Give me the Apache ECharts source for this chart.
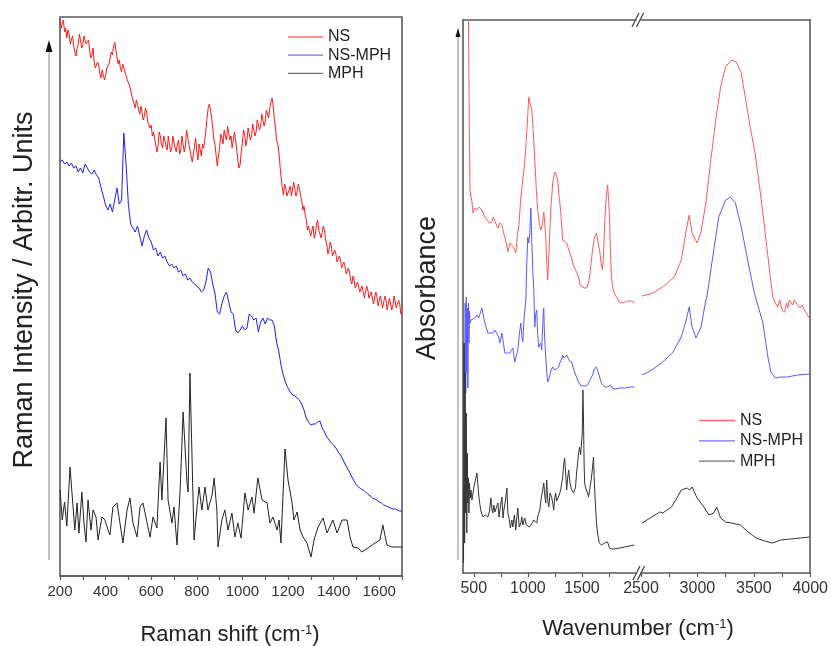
<!DOCTYPE html>
<html><head><meta charset="utf-8">
<script src="https://cdn.jsdelivr.net/npm/echarts@6/dist/echarts.min.js"></script>
<style>html,body{margin:0;padding:0;background:#fff}#c{width:831px;height:646px}</style>
</head><body><div id="c"></div>
<script>
// ---------- Raman (left panel): [Raman shift cm-1, intensity a.u.] ----------
const ramanNS = [[200,558],[205,548],[210,550],[215,556],[220,544],[225,548],[230,538],[235,546],[240,542],[245,532],[250,534],[255,540],[260,530],[265,524],[270,520],[275,528],[280,532],[285,542],[290,536],[295,528],[300,531],[305,540],[310,538],[315,532],[320,530],[325,536],[330,526],[335,518],[340,521],[345,528],[350,514],[355,508],[360,506],[365,514],[370,510],[375,502],[380,498],[385,506],[390,504],[395,496],[400,500],[405,508],[410,506],[415,512],[420,514],[425,524],[430,521],[435,530],[440,534],[445,526],[450,524],[455,512],[460,516],[465,508],[470,504],[475,512],[480,514],[485,504],[490,506],[495,496],[500,498],[505,490],[510,486],[515,480],[520,478],[525,472],[530,468],[535,476],[540,472],[545,466],[550,462],[555,470],[560,468],[565,456],[570,460],[575,468],[580,464],[585,454],[590,456],[595,448],[600,451],[605,440],[610,444],[615,438],[620,436],[625,424],[630,430],[635,444],[640,440],[645,432],[650,428],[655,440],[660,436],[665,430],[670,426],[675,440],[680,438],[685,424],[690,428],[695,440],[700,434],[705,428],[710,424],[715,432],[720,436],[725,422],[730,426],[735,440],[740,438],[745,424],[750,430],[755,446],[760,444],[765,432],[770,426],[775,420],[780,414],[785,422],[790,430],[795,438],[800,424],[805,416],[810,432],[815,426],[820,420],[825,432],[830,428],[835,436],[840,446],[845,458],[850,468],[855,472],[860,466],[865,458],[870,448],[875,436],[880,431],[885,420],[890,410],[895,420],[900,428],[905,442],[910,438],[915,432],[920,446],[925,440],[930,436],[935,450],[940,448],[945,436],[950,440],[955,428],[960,430],[965,444],[970,436],[975,426],[980,416],[985,408],[990,411],[995,424],[1000,434],[1005,446],[1010,442],[1015,430],[1020,436],[1025,448],[1030,446],[1035,436],[1040,440],[1045,452],[1050,450],[1055,440],[1060,444],[1065,456],[1070,454],[1075,446],[1080,450],[1085,462],[1090,460],[1095,450],[1100,454],[1105,466],[1110,464],[1115,458],[1120,468],[1125,474],[1130,478],[1135,470],[1140,458],[1145,448],[1150,436],[1155,432],[1160,424],[1165,410],[1170,398],[1175,388],[1180,381],[1185,392],[1190,388],[1195,380],[1200,378],[1205,386],[1210,390],[1215,380],[1220,382],[1225,394],[1230,392],[1235,380],[1240,384],[1245,392],[1250,388],[1255,380],[1260,376],[1265,366],[1270,370],[1275,362],[1280,356],[1285,346],[1290,350],[1295,344],[1300,340],[1305,346],[1310,350],[1315,338],[1320,342],[1325,352],[1330,356],[1335,346],[1340,348],[1345,338],[1350,340],[1355,350],[1360,346],[1365,336],[1370,332],[1375,322],[1380,326],[1385,334],[1390,330],[1395,320],[1400,318],[1405,326],[1410,322],[1415,314],[1420,312],[1425,320],[1430,316],[1435,308],[1440,306],[1445,314],[1450,310],[1455,302],[1460,300],[1465,308],[1470,304],[1475,296],[1480,292],[1485,300],[1490,296],[1495,288],[1500,286],[1505,294],[1510,292],[1515,284],[1520,282],[1525,290],[1530,288],[1535,278],[1540,280],[1545,290],[1550,286],[1555,278],[1560,276],[1565,284],[1570,282],[1575,272],[1580,274],[1585,284],[1590,280],[1595,270],[1600,272],[1605,280],[1610,278],[1615,268],[1620,270],[1625,280],[1630,276],[1635,266],[1640,268],[1645,278],[1650,276],[1655,266],[1660,270],[1665,280],[1670,278],[1675,268],[1680,266],[1685,276],[1690,272],[1695,262],[1700,264]];
const ramanNSMPH = [[200,414],[210,416],[220,412],[230,414],[240,410],[250,413],[260,408],[270,410],[280,404],[290,408],[300,403],[310,412],[320,408],[330,404],[340,402],[350,406],[360,401],[370,398],[380,388],[390,380],[400,371],[410,366],[420,372],[430,364],[440,376],[450,388],[460,372],[470,376],[480,443],[490,411],[500,371],[510,352],[520,348],[530,344],[540,350],[550,340],[560,330],[570,340],[580,346],[590,338],[600,334],[610,326],[620,328],[630,320],[640,324],[650,318],[660,320],[670,314],[680,310],[690,312],[700,308],[710,310],[720,304],[730,306],[740,300],[750,302],[760,296],[770,298],[780,294],[790,292],[800,290],[810,288],[820,284],[830,286],[840,294],[850,308],[860,304],[870,292],[880,282],[890,264],[900,262],[910,272],[920,280],[930,284],[940,274],[950,264],[960,262],[970,246],[980,243],[990,246],[1000,250],[1010,246],[1020,248],[1030,262],[1040,260],[1050,256],[1060,258],[1070,244],[1080,254],[1090,258],[1100,252],[1110,258],[1120,256],[1130,256],[1140,250],[1150,234],[1160,224],[1170,210],[1180,200],[1190,193],[1200,188],[1210,184],[1220,181],[1230,180],[1240,178],[1250,176],[1260,172],[1270,166],[1280,158],[1290,154],[1300,151],[1310,152],[1320,152],[1330,154],[1340,155],[1350,148],[1360,144],[1370,139],[1380,136],[1390,133],[1400,131],[1410,128],[1420,124],[1430,121],[1440,117],[1450,112],[1460,108],[1470,104],[1480,99],[1490,95],[1500,91],[1510,89],[1520,87],[1530,86],[1540,84],[1550,82],[1560,80],[1570,78],[1580,77],[1590,76],[1600,74],[1610,73],[1620,71],[1630,70],[1640,69],[1650,68],[1660,67],[1670,67],[1680,66],[1690,65],[1700,65]];
const ramanMPH = [[200,86],[210,56],[220,74],[230,50],[244,109],[255,76],[265,46],[275,73],[283,43],[296,84],[305,53],[314,34],[323,76],[336,46],[345,66],[358,59],[367,36],[384,59],[397,56],[411,46],[419,41],[432,69],[450,73],[463,53],[476,33],[494,66],[507,78],[520,53],[538,39],[551,69],[564,73],[582,53],[595,39],[608,59],[625,48],[639,114],[647,76],[665,158],[674,76],[691,53],[700,69],[713,31],[727,86],[740,164],[757,93],[762,84],[770,203],[788,36],[801,69],[810,89],[822,66],[836,89],[849,66],[867,81],[876,98],[888,66],[893,29],[910,56],[923,66],[937,46],[954,63],[967,39],[980,53],[994,38],[1011,83],[1025,66],[1042,79],[1051,63],[1068,98],[1086,76],[1108,73],[1121,53],[1134,59],[1152,46],[1161,56],[1169,33],[1187,127],[1200,96],[1218,73],[1226,56],[1240,64],[1253,46],[1266,39],[1283,33],[1301,19],[1314,36],[1332,49],[1354,58],[1371,43],[1397,56],[1415,43],[1437,56],[1459,56],[1472,39],[1485,29],[1507,28],[1524,24],[1551,28],[1582,33],[1603,36],[1616,51],[1634,31],[1656,29],[1700,29]];

// ---------- FTIR (right panel): [wavenumber cm-1, absorbance a.u.] ----------
const ftirNS_low = [[425,640],[440,600],[450,560],[458,450],[465,383],[470,378],[483,371],[492,360],[510,365],[529,363],[550,366],[575,363],[600,356],[621,353],[645,350],[667,351],[680,356],[695,355],[710,348],[723,345],[740,350],[760,348],[775,340],[787,336],[800,330],[815,321],[835,330],[852,330],[870,325],[888,320],[905,340],[916,346],[935,376],[953,378],[970,410],[990,440],[1008,476],[1020,470],[1036,463],[1050,440],[1064,413],[1080,380],[1091,363],[1105,350],[1119,343],[1133,348],[1147,361],[1156,350],[1165,336],[1175,310],[1183,293],[1195,320],[1211,363],[1230,390],[1248,401],[1262,398],[1276,393],[1290,375],[1303,363],[1322,333],[1340,332],[1359,330],[1380,323],[1405,315],[1420,308],[1441,303],[1455,300],[1469,296],[1483,288],[1497,286],[1520,285],[1543,285],[1560,290],[1570,296],[1585,310],[1598,323],[1615,335],[1635,340],[1650,330],[1663,323],[1677,310],[1690,303],[1700,320],[1709,346],[1720,370],[1737,388],[1746,375],[1755,356],[1764,320],[1773,296],[1790,282],[1819,276],[1847,271],[1880,270],[1920,272],[1960,272],[1985,270]];
const ftirNS_high = [[2509,277],[2605,280],[2692,286],[2796,296],[2857,313],[2901,343],[2927,358],[2953,340],[2997,330],[3032,341],[3075,370],[3119,413],[3163,453],[3206,486],[3250,506],[3302,513],[3346,511],[3389,500],[3433,470],[3468,446],[3511,420],[3555,383],[3598,343],[3642,300],[3668,276],[3690,270],[3712,266],[3730,273],[3750,263],[3773,261],[3790,270],[3800,265],[3815,273],[3826,271],[3845,268],[3860,273],[3887,268],[3910,265],[3930,268],[3948,263],[3970,259],[3991,255],[4000,255]];
const ftirNSMPH_low = [[415,190],[420,270],[425,180],[430,276],[435,200],[440,265],[445,185],[450,270],[455,230],[460,262],[465,250],[474,253],[492,253],[510,255],[529,258],[545,255],[557,253],[575,265],[590,256],[603,250],[630,240],[655,240],[676,240],[695,243],[713,243],[730,236],[741,230],[760,240],[787,220],[810,220],[833,220],[850,222],[861,225],[879,211],[895,218],[907,223],[920,238],[935,250],[945,236],[953,231],[965,255],[981,273],[990,310],[999,336],[1008,330],[1018,340],[1027,365],[1032,350],[1036,333],[1046,300],[1055,283],[1064,246],[1072,258],[1082,263],[1090,240],[1100,226],[1119,230],[1128,223],[1137,245],[1143,262],[1147,265],[1153,240],[1165,216],[1175,200],[1183,191],[1195,194],[1202,196],[1215,203],[1230,206],[1250,203],[1267,201],[1285,206],[1294,210],[1310,213],[1322,218],[1335,215],[1349,213],[1360,218],[1368,216],[1385,212],[1405,211],[1420,205],[1432,201],[1450,196],[1469,191],[1490,187],[1506,186],[1530,187],[1552,188],[1575,193],[1598,198],[1615,204],[1635,206],[1650,201],[1663,196],[1677,191],[1690,188],[1715,186],[1737,186],[1750,188],[1764,188],[1780,185],[1801,184],[1850,185],[1893,185],[1940,186],[1985,186]];
const ftirNSMPH_high = [[2509,198],[2596,203],[2692,211],[2779,220],[2857,236],[2901,253],[2927,266],[2953,246],[2988,235],[3032,246],[3075,273],[3084,276],[3145,323],[3189,356],[3250,373],[3293,376],[3337,370],[3389,346],[3433,320],[3505,280],[3581,250],[3625,216],[3651,201],[3694,195],[3738,196],[3799,196],[3886,198],[3991,199]];
const ftirMPH_low = [[405,10],[410,230],[415,30],[420,200],[425,60],[430,160],[435,40],[440,120],[445,70],[450,95],[455,60],[460,90],[466,75],[474,83],[483,73],[501,86],[529,100],[547,76],[565,62],[584,56],[605,58],[630,56],[645,62],[658,75],[667,64],[676,60],[685,68],[695,61],[710,60],[723,70],[733,56],[741,56],[750,70],[760,76],[770,55],[778,63],[792,72],[806,85],[815,60],[824,56],[838,45],[852,53],[861,46],[875,58],[888,43],[897,55],[907,65],[920,46],[935,50],[944,56],[953,48],[971,55],[985,48],[999,50],[1015,46],[1027,45],[1040,50],[1054,53],[1070,52],[1082,50],[1095,58],[1110,63],[1125,76],[1137,83],[1147,90],[1156,78],[1165,70],[1174,93],[1184,72],[1193,66],[1205,80],[1220,76],[1230,70],[1239,63],[1248,75],[1257,80],[1266,72],[1276,70],[1290,78],[1303,83],[1313,90],[1322,96],[1331,108],[1340,115],[1350,98],[1359,83],[1368,95],[1377,103],[1390,90],[1405,83],[1414,85],[1423,80],[1432,83],[1441,86],[1450,100],[1460,110],[1469,120],[1478,126],[1488,118],[1497,116],[1503,140],[1509,183],[1515,150],[1520,110],[1525,90],[1534,85],[1543,83],[1552,80],[1561,76],[1575,86],[1589,96],[1600,108],[1607,116],[1615,90],[1626,66],[1635,50],[1644,40],[1660,30],[1681,28],[1695,30],[1709,30],[1723,28],[1737,31],[1746,30],[1755,25],[1775,24],[1801,24],[1850,25],[1893,26],[1940,27],[1985,28]];
const ftirMPH_high = [[2509,50],[2596,56],[2666,61],[2692,60],[2770,66],[2823,76],[2857,83],[2910,85],[2930,83],[2953,86],[2997,75],[3058,66],[3102,58],[3145,60],[3171,66],[3206,55],[3250,51],[3302,50],[3381,48],[3450,41],[3520,35],[3598,32],[3668,30],[3738,33],[3826,34],[3913,35],[3991,36]];

// ---------- axis ticks / labels ----------
const ramanTicks = [200,300,400,500,600,700,800,900,1000,1100,1200,1300,1400,1500,1600,1700];
const ramanLabels = [200,400,600,800,1000,1200,1400,1600];
const ftirLowTicks = [500,750,1000,1250,1500,1750];
const ftirLowLabels = [500,1000,1500];
const ftirHighTicks = [2500,2750,3000,3250,3500,3750,4000];
const ftirHighLabels = [2500,3000,3500,4000];
const seriesNames = ['NS','NS-MPH','MPH'];

const FONT = '"Liberation Sans", Arial, Helvetica, sans-serif';
const FRAME = '#5a5a5a';
const leftColors = ['#ff1a1a','#1f1fff','#222222'];
const rightColors = ['#ff5a5a','#5a5aff','#333333'];

const chart = echarts.init(document.getElementById('c'), null, {renderer:'canvas'});

function lineAxis(grid, min, max, pos, ticks, labels, fs) {
  return {
    type:'value', gridIndex:grid, min:min, max:max, position:pos,
    axisLine:{show:true, onZero:false, lineStyle:{color:FRAME, width:1.6}},
    axisTick:{show:!!ticks, inside:false, length:4, customValues:ticks||undefined, lineStyle:{color:FRAME, width:1.2}},
    axisLabel:{show:!!labels, customValues:labels||undefined, fontSize:fs||15, color:'#333', fontFamily:FONT, margin:8,
               formatter:function(v){return String(v);}},
    splitLine:{show:false}
  };
}

function mk(name, data, xi, yi, color) {
  return {name:name, type:'line', data:data, xAxisIndex:xi, yAxisIndex:yi, symbol:'none', showSymbol:false,
    lineStyle:{color:color, width:1}, itemStyle:{color:color}, clip:true, silent:true, animation:false};
}

const supRich = {sup:{fontSize:13, fontFamily:FONT, fill:'#222', verticalAlign:'top', padding:[0,0,4,0]}};
const legendCommon = {data:seriesNames, orient:'vertical', padding:0, icon:'rect', itemHeight:1.3,
  itemStyle:{opacity:0.65}, textStyle:{fontSize:16, fontFamily:FONT, color:'#222', lineHeight:16}, selectedMode:false};

chart.setOption({
  animation:false,
  backgroundColor:'#fff',
  grid:[
    {left:60, right:429, top:17, bottom:70, show:true, borderColor:FRAME, borderWidth:1.6},
    {left:463, right:195, top:20, bottom:73},
    {left:641, right:18, top:20, bottom:73}
  ],
  xAxis:[
    lineAxis(0, 200, 1700, 'bottom', ramanTicks, ramanLabels, 15),
    lineAxis(1, 400, 2000, 'bottom', ftirLowTicks, ftirLowLabels, 16),
    lineAxis(2, 2500, 4000, 'bottom', ftirHighTicks, ftirHighLabels, 16),
    lineAxis(1, 400, 2000, 'top', null, null),
    lineAxis(2, 2500, 4000, 'top', null, null)
  ],
  yAxis:[
    {type:'value', gridIndex:0, min:0, max:559, show:false},
    {type:'value', gridIndex:1, min:0, max:553, position:'left', axisLine:{show:true, lineStyle:{color:FRAME, width:1.6}}, axisTick:{show:false}, axisLabel:{show:false}, splitLine:{show:false}},
    {type:'value', gridIndex:2, min:0, max:553, position:'right', axisLine:{show:true, lineStyle:{color:FRAME, width:1.6}}, axisTick:{show:false}, axisLabel:{show:false}, splitLine:{show:false}}
  ],
  legend:[
    Object.assign({}, legendCommon, {left:288, top:29, itemWidth:35, itemGap:2.2}),
    Object.assign({}, legendCommon, {left:699, top:412.5, itemWidth:36, itemGap:4.3})
  ],
  series:[
    mk('NS', ramanNS, 0, 0, leftColors[0]),
    mk('NS-MPH', ramanNSMPH, 0, 0, leftColors[1]),
    mk('MPH', ramanMPH, 0, 0, leftColors[2]),
    mk('NS', ftirNS_low, 1, 1, rightColors[0]),
    mk('NS-MPH', ftirNSMPH_low, 1, 1, rightColors[1]),
    mk('MPH', ftirMPH_low, 1, 1, rightColors[2]),
    mk('NS', ftirNS_high, 2, 2, rightColors[0]),
    mk('NS-MPH', ftirNSMPH_high, 2, 2, rightColors[1]),
    mk('MPH', ftirMPH_high, 2, 2, rightColors[2])
  ],
  graphic:[
    {type:'line', shape:{x1:49, y1:560, x2:49, y2:48}, style:{stroke:'#888', lineWidth:1}, silent:true},
    {type:'polygon', shape:{points:[[49,40],[45.5,52],[52.5,52]]}, style:{fill:'#111'}, silent:true},
    {type:'line', shape:{x1:458, y1:560, x2:458, y2:35}, style:{stroke:'#888', lineWidth:1}, silent:true},
    {type:'polygon', shape:{points:[[458,28],[455.5,37],[460.5,37]]}, style:{fill:'#111'}, silent:true},
    {type:'line', shape:{x1:632, y1:27, x2:639, y2:13}, style:{stroke:'#444', lineWidth:1.3}, silent:true},
    {type:'line', shape:{x1:636.5, y1:27, x2:643.5, y2:13}, style:{stroke:'#444', lineWidth:1.3}, silent:true},
    {type:'line', shape:{x1:633, y1:580, x2:640, y2:566}, style:{stroke:'#444', lineWidth:1.3}, silent:true},
    {type:'line', shape:{x1:637.5, y1:580, x2:644.5, y2:566}, style:{stroke:'#444', lineWidth:1.3}, silent:true},
    {type:'text', x:25, y:290, rotation:Math.PI/2, silent:true,
     style:{text:'Raman Intensity / Arbitr. Units', fontSize:27, fontFamily:FONT, fill:'#222', align:'center', verticalAlign:'middle'}},
    {type:'text', x:428, y:288, rotation:Math.PI/2, silent:true,
     style:{text:'Absorbance', fontSize:27, fontFamily:FONT, fill:'#222', align:'center', verticalAlign:'middle'}},
    {type:'text', x:230, y:635, silent:true,
     style:{text:'Raman shift (cm{sup|-1})', rich:supRich, fontSize:22, fontFamily:FONT, fill:'#222', align:'center', verticalAlign:'middle'}},
    {type:'text', x:638, y:629, silent:true,
     style:{text:'Wavenumber (cm{sup|-1})', rich:supRich, fontSize:22, fontFamily:FONT, fill:'#222', align:'center', verticalAlign:'middle'}}
  ]
});
</script></body></html>
